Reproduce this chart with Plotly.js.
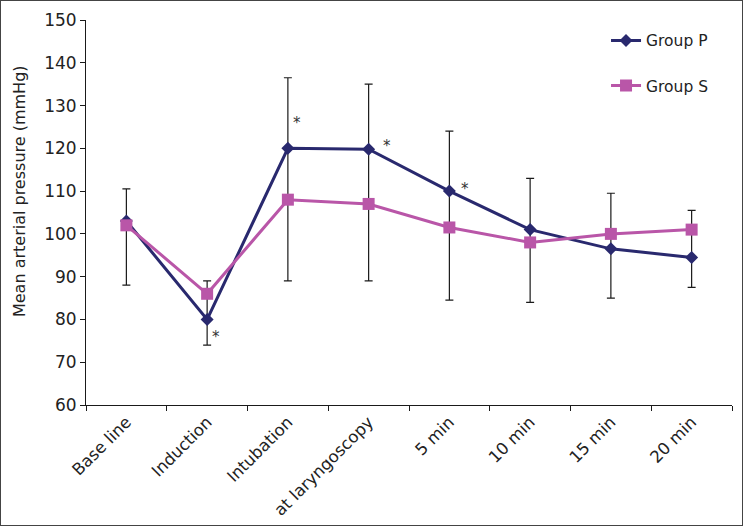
<!DOCTYPE html>
<html>
<head>
<meta charset="utf-8">
<script src="https://cdn.plot.ly/plotly-3.0.1.min.js"></script>
<style>
html,body{margin:0;padding:0;background:#fff;}
#frame{width:743px;height:526px;box-sizing:border-box;border:1px solid #444;position:relative;overflow:hidden;}
#chart{position:absolute;left:-1px;top:-1px;width:743px;height:526px;}
</style>
</head>
<body>
<div id="frame"><div id="chart"></div></div>
<script>
const categories = ["Base line","Induction","Intubation","at laryngoscopy","5 min","10 min","15 min","20 min"];
const groupP = [103, 80, 120, 119.8, 110, 101, 96.5, 94.5];
const groupS = [102, 86, 108, 107, 101.5, 98, 100, 101];
const errUpper = [110.5, 89, 136.5, 135, 124, 113, 109.5, 105.5];
const errLower = [88, 74, 89, 89, 84.5, 84, 85, 87.5];
const starCats = ["Induction","Intubation","at laryngoscopy","5 min"];
const starY = [76, 126, 120.5, 110.5];
const starShift = [9, 9, 18, 16];
const yTitle = 'Mean arterial pressure (mmHg)';

const errPlus = errUpper.map((u,i)=>u-groupP[i]);
const errMinus = groupP.map((p,i)=>p-errLower[i]);

const FONT = 'DejaVu Sans, Liberation Sans, Arial, sans-serif';

const traces = [
  {x: categories, y: groupP, type:'scatter', mode:'markers', showlegend:false, hoverinfo:'skip',
   marker:{size:1, opacity:0},
   error_y:{type:'data', symmetric:false, array:errPlus, arrayminus:errMinus, color:'#1a1a1a', thickness:1.2, width:4}},
  {x: categories, y: groupP, type:'scatter', mode:'lines+markers', name:'Group P', legendgroup:'p',
   line:{color:'#29296E', width:3}, marker:{symbol:'diamond', size:10, color:'#29296E'}},
  {x: categories, y: groupS, type:'scatter', mode:'lines+markers', name:'Group S', legendgroup:'s',
   line:{color:'#B956A8', width:3}, marker:{symbol:'square', size:12, color:'#B956A8'}}
];

const annotations = starCats.map((c,i)=>({x:c, y:starY[i], xref:'x', yref:'y', text:'*', showarrow:false,
  xshift:starShift[i], font:{size:15, color:'#333', family:FONT}}));
annotations.push({text:yTitle, xref:'paper', yref:'paper', x:-0.102, y:0.556, textangle:-90,
  showarrow:false, xanchor:'center', yanchor:'middle', font:{size:16, color:'#222', family:FONT}});

const layout = {
  width:743, height:526,
  margin:{l:86, r:11, t:20, b:121},
  paper_bgcolor:'#fff', plot_bgcolor:'#fff',
  font:{family:FONT, color:'#222', size:16},
  showlegend:true,
  legend:{x:0.805, y:0.99, xanchor:'left', yanchor:'top', traceorder:'grouped', tracegroupgap:22,
    bgcolor:'rgba(0,0,0,0)', font:{size:15.5, color:'#222'}},
  xaxis:{type:'category', showline:true, linecolor:'#1a1a1a', linewidth:1, ticks:'outside', ticklen:5,
    tickcolor:'#1a1a1a', tickson:'boundaries', tickangle:-45, showgrid:false, zeroline:false,
    tickfont:{size:16.5}, range:[-0.5,7.5]},
  yaxis:{range:[60,150], dtick:10, showline:true, linecolor:'#1a1a1a', linewidth:1, ticks:'outside',
    ticklen:5, tickcolor:'#1a1a1a', showgrid:false, zeroline:false, tickfont:{size:17}},
  annotations: annotations
};
Plotly.newPlot('chart', traces, layout, {displayModeBar:false, staticPlot:true});
</script>
</body>
</html>
